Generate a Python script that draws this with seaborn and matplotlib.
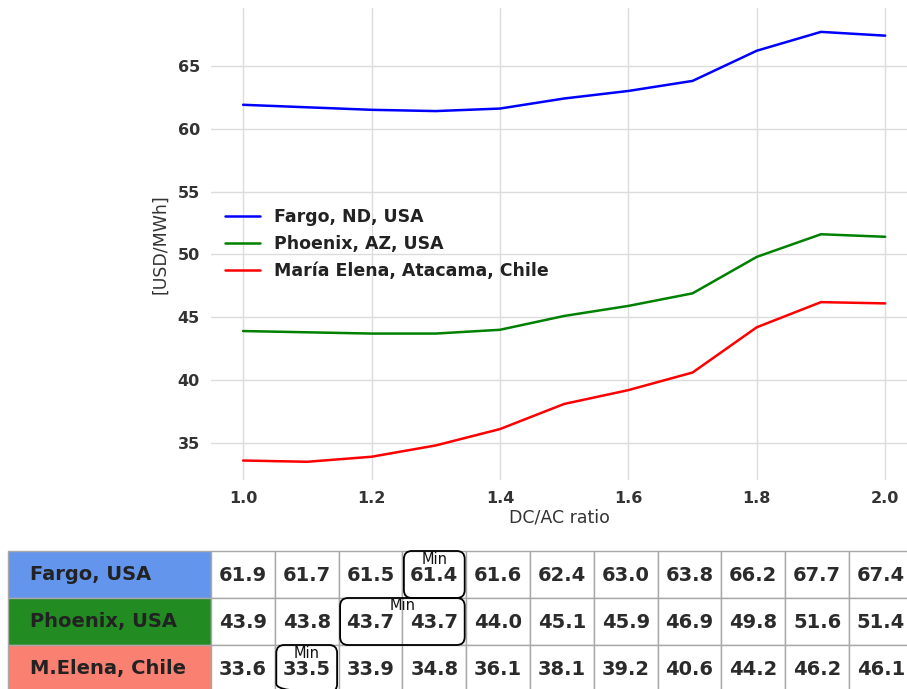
import numpy as np
import pandas as pd
import seaborn as sns
import matplotlib.pyplot as plt
from matplotlib.patches import FancyBboxPatch, Rectangle

# DC/AC ratios and levelized cost (USD/MWh) per site
dc_ac = [1.0, 1.1, 1.2, 1.3, 1.4, 1.5, 1.6, 1.7, 1.8, 1.9, 2.0]
fargo = [61.9, 61.7, 61.5, 61.4, 61.6, 62.4, 63.0, 63.8, 66.2, 67.7, 67.4]
phoenix = [43.9, 43.8, 43.7, 43.7, 44.0, 45.1, 45.9, 46.9, 49.8, 51.6, 51.4]
elena = [33.6, 33.5, 33.9, 34.8, 36.1, 38.1, 39.2, 40.6, 44.2, 46.2, 46.1]

series_names = ["Fargo, ND, USA", "Phoenix, AZ, USA", "María Elena, Atacama, Chile"]
row_labels = ["Fargo, USA", "Phoenix, USA", "M.Elena, Chile"]
line_colors = ["#0000ff", "#008000", "#ff0000"]
row_colors = ["#6495ed", "#228b22", "#fa8072"]
yticks = [35, 40, 45, 50, 55, 60, 65]
xticks = [1.0, 1.2, 1.4, 1.6, 1.8, 2.0]

series_values = [fargo, phoenix, elena]
df = pd.DataFrame({
    "DC/AC ratio": dc_ac * 3,
    "cost": fargo + phoenix + elena,
    "site": [n for n in series_names for _ in dc_ac],
})

sns.set_theme(style="whitegrid")
plt.rcParams["font.family"] = ["DejaVu Sans"]

W, H = 907, 689
fig = plt.figure(figsize=(W / 100, H / 100), dpi=100)

# main line chart
ax = fig.add_axes([211 / W, 1 - 480 / H, (W - 211) / W, (480 - 8) / H])
sns.lineplot(data=df, x="DC/AC ratio", y="cost", hue="site",
             palette=line_colors, linewidth=1.8, ax=ax)
ax.set_xlim(0.95, 2.034)
ax.set_ylim(32.05, 69.6)
ax.set_xticks(xticks)
ax.set_yticks(yticks)
ax.set_xticklabels([f"{v:.1f}" for v in xticks], fontsize=11.5,
                   fontweight="bold", color="#333333")
ax.set_yticklabels([str(v) for v in yticks], fontsize=11.5,
                   fontweight="bold", color="#333333")
ax.tick_params(axis="both", length=0, pad=8)
ax.grid(color="#dcdcdc", linewidth=1.0)
for s in ax.spines.values():
    s.set_visible(False)
ax.set_xlabel("DC/AC ratio", fontsize=12.5, color="#333333", labelpad=2)
ax.set_ylabel("[USD/MWh]", fontsize=12.5, color="#333333", labelpad=6)

handles, labels = ax.get_legend_handles_labels()
ax.legend(handles, labels, loc="center left", bbox_to_anchor=(0.01, 0.5),
          borderaxespad=0, frameon=False,
          prop={"weight": "bold", "size": 12.5})
for t in ax.get_legend().get_texts():
    t.set_color("#222222")

# value table below the chart, in pixel coordinates
tab = fig.add_axes([0, 0, 1, 1])
tab.set_xlim(0, W)
tab.set_ylim(H, 0)
tab.axis("off")

top, row_h = 551, 47
lab_x0, lab_x1 = 8, 211
col_w = 63.8
grid_col = "#a8a8a8"

for r, (lab, vals) in enumerate(zip(row_labels, series_values)):
    y0 = top + r * row_h
    tab.add_patch(Rectangle((lab_x0, y0), lab_x1 - lab_x0, row_h,
                            facecolor=row_colors[r], edgecolor=grid_col, lw=1))
    tab.text(lab_x0 + 22, y0 + row_h / 2, lab, ha="left", va="center",
             fontsize=14, fontweight="bold", color="#222222")
    for c, v in enumerate(vals):
        x0 = lab_x1 + c * col_w
        tab.add_patch(Rectangle((x0, y0), col_w, row_h, facecolor="white",
                                edgecolor=grid_col, lw=1))
        tab.text(x0 + col_w / 2, y0 + row_h / 2 + 1, f"{v:.1f}", ha="center",
                 va="center", fontsize=14, fontweight="bold", color="#2b2b2b")

    # outline the minimum value(s) of each row
    vmin = min(vals)
    idx = [i for i, v in enumerate(vals) if v == vmin]
    c0, c1 = idx[0], idx[-1]
    bx0 = lab_x1 + c0 * col_w + 1.5
    bx1 = lab_x1 + (c1 + 1) * col_w - 1.5
    tab.add_patch(FancyBboxPatch((bx0 + 5, y0 + 5), bx1 - bx0 - 10, row_h - 10,
                                 boxstyle="round,pad=5,rounding_size=8",
                                 facecolor="none", edgecolor="black", lw=1.3,
                                 zorder=5))
    tab.text((bx0 + bx1) / 2, y0 + 8, "Min", ha="center", va="center",
             fontsize=10.5, color="#111111", zorder=6)

fig.savefig("out.png", dpi=100)
